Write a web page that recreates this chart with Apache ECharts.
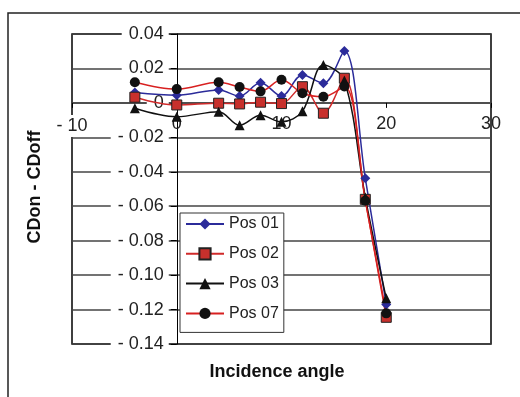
<!DOCTYPE html>
<html>
<head>
<meta charset="utf-8">
<script src="https://cdn.jsdelivr.net/npm/echarts@6/dist/echarts.min.js"></script>
<style>
  html, body { margin: 0; padding: 0; background: #fff; }
  #chart { width: 520px; height: 397px; }
</style>
</head>
<body>
<div id="chart"></div>
<script>
// incidence angles (x) and the four tap positions
const angles = [-4, 0, 4, 6, 8, 10, 12, 14, 16, 18, 20];
const pos01 = [0.006, 0.0045, 0.0075, 0.004, 0.0117, 0.004, 0.0162, 0.0114, 0.0302, -0.0438, -0.117];
const pos02 = [0.0033, -0.0012, -0.0002, -0.0006, 0.0004, -0.0004, 0.0094, -0.006, 0.0143, -0.056, -0.1245];
const pos03 = [-0.0031, -0.008, -0.0051, -0.013, -0.0072, -0.011, -0.0048, 0.022, 0.013, -0.055, -0.1135];
const pos07 = [0.012, 0.008, 0.012, 0.0092, 0.0067, 0.0134, 0.0056, 0.0036, 0.0095, -0.0568, -0.1222];
const seriesNames = ["Pos 01", "Pos 02", "Pos 03", "Pos 07"];

const FONT = "Liberation Sans, Arial, sans-serif";
const pairs = arr => angles.map((a, i) => [a, arr[i]]);

// grid box, axes cross at (0, 0) like the excel chart
const G = { left: 72, right: 29, top: 34, bottom: 53 };
const gridW = 520 - G.left - G.right;
const gridH = 397 - G.top - G.bottom;
const xMin = -10, xMax = 30, yMin = -0.14, yMax = 0.04;
const yAxisShift = gridW * (0 - xMin) / (xMax - xMin);
const xAxisShift = gridH * (0 - yMin) / (yMax - yMin);

const chart = echarts.init(document.getElementById("chart"));

const option = {
  animation: false,
  backgroundColor: "#fff",
  grid: {
    show: true,
    left: G.left,
    right: G.right,
    top: G.top,
    bottom: G.bottom,
    borderColor: "#000",
    borderWidth: 1.5,
    backgroundColor: "#fff"
  },
  legend: {
    orient: "vertical",
    left: 180,
    top: 213,
    padding: [3, 5, 11, 5],
    itemWidth: 38,
    itemHeight: 14,
    itemGap: 13.8,
    backgroundColor: "#fff",
    borderColor: "#333",
    borderWidth: 1,
    textStyle: { fontFamily: FONT, fontSize: 16, color: "#222" },
    data: seriesNames
  },
  xAxis: {
    type: "value",
    min: xMin,
    max: xMax,
    interval: 10,
    position: "bottom",
    offset: -xAxisShift,
    axisLine: { onZero: false, lineStyle: { color: "#444", width: 1.5 } },
    axisTick: { show: true, length: 5, lineStyle: { color: "#000" } },
    splitLine: { show: false },
    axisLabel: {
      margin: 12,
      fontFamily: FONT,
      fontSize: 18,
      color: "#222",
      formatter: v => v < 0 ? "{b|- " + Math.abs(v) + "}" : "{a|" + v + "}",
      rich: {
        a: { fontFamily: FONT, fontSize: 18, color: "#222" },
        b: { fontFamily: FONT, fontSize: 18, color: "#222", backgroundColor: "#fff", padding: [2, 1] }
      }
    }
  },
  yAxis: {
    type: "value",
    min: yMin,
    max: yMax,
    interval: 0.02,
    position: "left",
    offset: -yAxisShift,
    axisLine: { onZero: false, lineStyle: { color: "#000", width: 1 } },
    axisTick: { show: true, length: 6, lineStyle: { color: "#000" } },
    splitLine: { show: true, lineStyle: { color: "#444", width: 1.5 } },
    axisLabel: {
      margin: 8,
      fontFamily: FONT,
      fontSize: 18,
      color: "#222",
      backgroundColor: "#fff",
      padding: [0, 5, 0, 7],
      formatter: v => {
        const r = Math.round(v * 100) / 100;
        if (r === 0) return "0";
        return r < 0 ? "- " + Math.abs(r).toFixed(2) : r.toFixed(2);
      }
    }
  },
  graphic: [
    {
      type: "rect",
      silent: true,
      shape: { x: 8, y: 13, width: 600, height: 500 },
      style: { fill: "none", stroke: "#222", lineWidth: 1.5 },
      z: 100
    },
    {
      type: "text",
      silent: true,
      x: 277,
      y: 372,
      style: {
        text: "Incidence angle",
        font: "bold 18px " + FONT,
        fill: "#111",
        align: "center",
        verticalAlign: "middle"
      }
    },
    {
      type: "text",
      silent: true,
      x: 35,
      y: 187,
      rotation: Math.PI / 2,
      style: {
        text: "CDon - CDoff",
        font: "bold 18px " + FONT,
        fill: "#111",
        align: "center",
        verticalAlign: "middle"
      }
    }
  ],
  series: [
    {
      name: "Pos 01",
      type: "line",
      smooth: 0.35,
      symbol: "diamond",
      symbolSize: 10,
      lineStyle: { color: "#2b2b9a", width: 1.5 },
      itemStyle: { color: "#2b2b9a" },
      data: pairs(pos01)
    },
    {
      name: "Pos 02",
      type: "line",
      smooth: 0.35,
      symbol: "rect",
      symbolSize: 10,
      lineStyle: { color: "#d02a2a", width: 1.5 },
      itemStyle: { color: "#c8302c", borderColor: "#222", borderWidth: 1 },
      data: pairs(pos02)
    },
    {
      name: "Pos 03",
      type: "line",
      smooth: 0.35,
      symbol: "triangle",
      symbolSize: 10,
      lineStyle: { color: "#111", width: 1.5 },
      itemStyle: { color: "#111" },
      data: pairs(pos03)
    },
    {
      name: "Pos 07",
      type: "line",
      smooth: 0.35,
      symbol: "circle",
      symbolSize: 10,
      lineStyle: { color: "#d82020", width: 1.5 },
      itemStyle: { color: "#111" },
      data: pairs(pos07)
    }
  ]
};

chart.setOption(option);
</script>
</body>
</html>
